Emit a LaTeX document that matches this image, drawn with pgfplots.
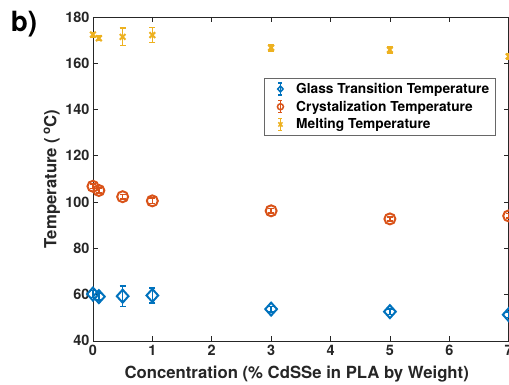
\documentclass[border=0pt]{standalone}
\usepackage{fontspec}
\setmainfont{TeX Gyre Heros}
\usepackage{pgfplots}
\pgfplotsset{compat=1.18}
\usetikzlibrary{calc}
\definecolor{mblue}{rgb}{0,0.447,0.741}
\definecolor{morange}{rgb}{0.85,0.325,0.098}
\definecolor{myellow}{rgb}{0.929,0.694,0.125}
\definecolor{axgray}{rgb}{0.15,0.15,0.15}
\begin{document}
\begin{tikzpicture}
\begin{axis}[
  name=ax,
  scale only axis,
  width=416bp, height=324bp,
  xmin=0, xmax=7, ymin=40, ymax=180,
  xtick={0,1,...,7}, ytick={40,60,...,180},
  tick align=inside,
  major tick length=5bp,
  axis line style={axgray, line width=0.6bp},
  every tick/.style={axgray, line width=0.6bp},
  /pgf/number format/assume math mode=true,
  tick label style={font=\bfseries\fontsize{14.5}{16}\selectfont, text=axgray},
  xticklabel style={yshift=-1bp},
  xlabel={Concentration (\% CdSSe in PLA by Weight)},
  ylabel={Temperature (\,\textsuperscript{o}C)},
  label style={font=\bfseries\fontsize{16.8}{18}\selectfont, text=axgray},
  xlabel style={at={(axis description cs:0.49,-0.078)}, anchor=north, inner sep=0pt},
  ylabel style={at={(axis description cs:-0.079,0.5)}, anchor=south, rotate=0, inner sep=0pt},
  clip=false,
  legend style={at={(axis description cs:0.411,0.812)}, anchor=north west,
    draw=axgray!70, line width=0.6bp, font=\bfseries\fontsize{13.8}{15}\selectfont,
    row sep=2bp, inner xsep=4bp, inner ysep=3bp, text=black},
  legend cell align=left,
  legend image code/.code={
    \path (0cm,0cm) (0.85cm,0cm);
    \draw[#1, mark=none, line width=1.5bp] (0.4cm,-6bp) -- (0.4cm,6bp) (0.4cm-2bp,-6bp)--(0.4cm+2bp,-6bp) (0.4cm-2bp,6bp)--(0.4cm+2bp,6bp);
    \draw[#1, line width=1.5bp] plot[mark size=3bp] coordinates {(0.4cm,0cm)};
  },
  error bars/error bar style={line width=1.5bp},
  error bars/error mark options={rotate=90, mark size=3bp, line width=1.5bp},
]
\addplot[only marks, mark=diamond, mark size=6.5bp, mark options={xscale=1.2}, mblue, line width=2bp,
  error bars/.cd, y dir=both, y explicit]
  coordinates {
    (0,60.2) +- (0,1.5)
    (0.1,59.1) +- (0,1.5)
    (0.5,59.3) +- (0,4.5)
    (1,59.6) +- (0,3.3)
    (3,53.7) +- (0,1.2)
    (5,52.6) +- (0,1.2)
    (7,51.3) +- (0,1.2)
  };
\addlegendentry{Glass Transition Temperature}
\addplot[only marks, mark=o, mark size=5.5bp, morange, line width=2bp,
  error bars/.cd, y dir=both, y explicit]
  coordinates {
    (0,106.8) +- (0,1.0)
    (0.1,105.0) +- (0,1.0)
    (0.5,102.3) +- (0,1.0)
    (1,100.5) +- (0,1.2)
    (3,96.2) +- (0,1.0)
    (5,92.7) +- (0,0.8)
    (7,94.0) +- (0,1.0)
  };
\addlegendentry{Crystalization Temperature}
\addplot[only marks, mark=x, mark size=4bp, myellow, line width=2bp,
  error bars/.cd, y dir=both, y explicit]
  coordinates {
    (0,172.4) +- (0,1.0)
    (0.1,170.8) +- (0,1.0)
    (0.5,171.4) +- (0,3.8)
    (1,172.2) +- (0,3.3)
    (3,166.7) +- (0,1.3)
    (5,165.8) +- (0,1.3)
    (7,163.0) +- (0,1.2)
  };
\addlegendentry{Melting Temperature}
\coordinate (O) at (rel axis cs:0,0);
\coordinate (E) at (rel axis cs:1,1);
\node[font=\bfseries\fontsize{28}{30}\selectfont, anchor=center] at ($(rel axis cs:0,1)+(-69bp,-7bp)$) {b)};
\end{axis}
\pgfresetboundingbox
\path[use as bounding box] ($(O)+(-93bp,-44bp)$) rectangle ($(E)+(0.3bp,17bp)$);
\end{tikzpicture}
\end{document}
